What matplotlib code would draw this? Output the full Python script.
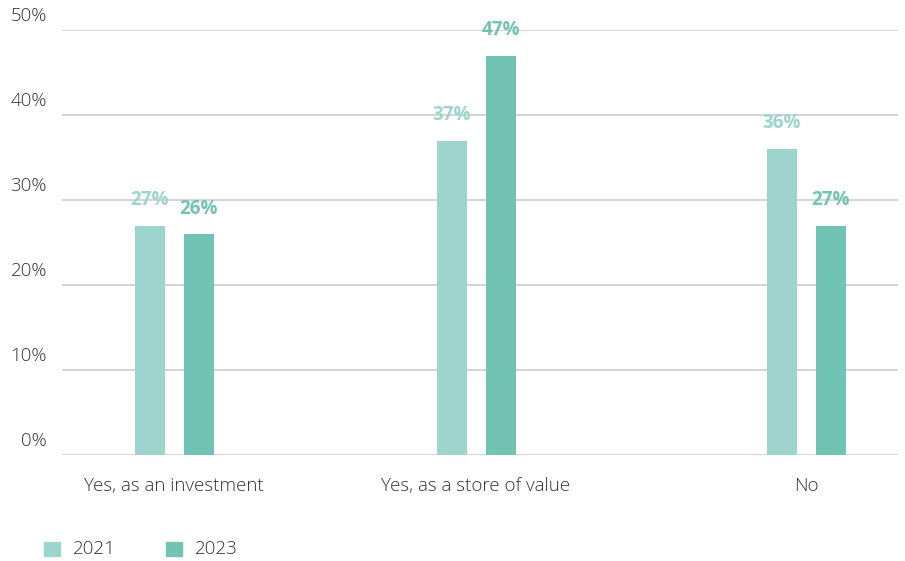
import matplotlib.pyplot as plt
import numpy as np

plt.rcParams['font.family'] = ['Open Sans', 'DejaVu Sans']

categories = ['Yes, as an investment', 'Yes, as a store of value', 'No']
years = ['2021', '2023']
values_2021 = [27, 37, 36]
values_2023 = [26, 47, 27]
y_ticks = [0, 10, 20, 30, 40, 50]

colors = ['#9dd4cd', '#71c3b3']
text_color = '#333333'

fig = plt.figure(figsize=(9.05, 5.61), dpi=100)
ax = fig.add_axes([62 / 905, 106 / 561, 836 / 905, 425 / 561])

# uneven group centres as in the original layout (axis pixel units)
centers = np.array([112, 414, 744])
offset = 24.5
width = 30

ax.bar(centers - offset, values_2021, width, color=colors[0], zorder=3)
ax.bar(centers + offset, values_2023, width, color=colors[1], zorder=3)

for x, v in zip(centers - offset, values_2021):
    ax.text(x, v + 3, f'{v}%', ha='center', va='center', fontsize=13.5,
            fontweight='bold', color=colors[0], clip_on=False)
for x, v in zip(centers + offset, values_2023):
    ax.text(x, v + 3, f'{v}%', ha='center', va='center', fontsize=13.5,
            fontweight='bold', color=colors[1], clip_on=False)

ax.set_xlim(0, 836)
ax.set_ylim(0, 50)
for t in y_ticks:
    ax.axhline(t, color='#d3d3d3', lw=1.4, zorder=1)
    ax.text(-15, t + 0.6, f'{t}%', ha='right', va='bottom', fontsize=13.5,
            fontweight='light', color=text_color, clip_on=False)

for x, c in zip(centers, categories):
    ax.text(x, -3.6, c, ha='center', va='center', fontsize=13.5,
            fontweight='light', color=text_color, clip_on=False)

ax.set_xticks([])
ax.set_yticks([])
for s in ax.spines.values():
    s.set_visible(False)

# legend
for i, (yr, col) in enumerate(zip(years, colors)):
    x0 = 44 + i * 122
    fig.patches.append(plt.Rectangle((x0 / 905, 5 / 561), 16 / 905, 14 / 561,
                                     transform=fig.transFigure, color=col))
    fig.text((x0 + 29) / 905, 12 / 561, yr, ha='left', va='center',
             fontsize=13.5, fontweight='light', color=text_color)

fig.savefig('out.png', dpi=100)
